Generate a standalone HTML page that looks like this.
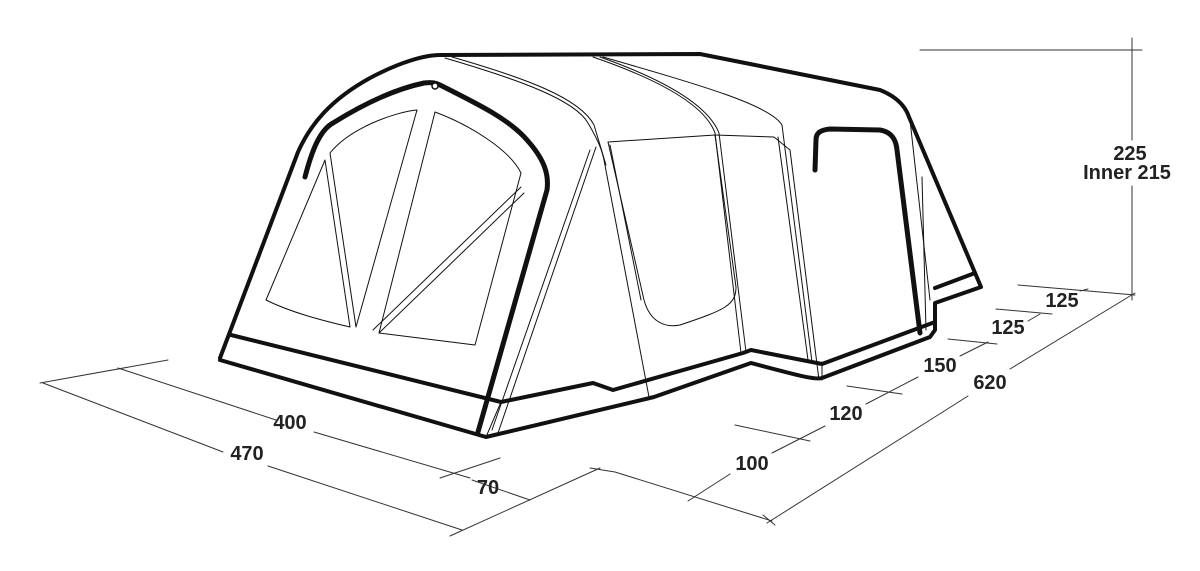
<!DOCTYPE html>
<html><head><meta charset="utf-8"><style>
html,body{margin:0;padding:0;background:#fff;}
svg{display:block;}
text{font-family:"Liberation Sans",sans-serif;font-size:20px;font-weight:bold;fill:#222;text-anchor:middle;}
</style></head><body>
<svg width="1200" height="571" viewBox="0 0 1200 571" xmlns="http://www.w3.org/2000/svg">
<g fill="none" stroke="#111" stroke-linecap="round" stroke-linejoin="round">
<g stroke-width="1" stroke="#333">
<line x1="40" y1="383" x2="168" y2="360"/>
<line x1="118" y1="368" x2="276" y2="420"/>
<line x1="314" y1="432" x2="470" y2="478"/>
<line x1="440" y1="478" x2="500" y2="458"/>
<line x1="43" y1="383" x2="223" y2="452"/>
<line x1="268" y1="466" x2="462" y2="530"/>
<line x1="450" y1="536" x2="600" y2="468"/>
<line x1="472" y1="480" x2="530" y2="500"/>
<line x1="590" y1="468" x2="615" y2="472"/>
<line x1="615" y1="472" x2="772" y2="521"/>
<line x1="688" y1="501" x2="730" y2="474"/>
<line x1="772" y1="453" x2="825" y2="426"/>
<line x1="735" y1="425" x2="810" y2="441"/>
<line x1="866" y1="404" x2="918" y2="377"/>
<line x1="847" y1="386" x2="902" y2="394"/>
<line x1="960" y1="356" x2="988" y2="342"/>
<line x1="948" y1="339" x2="997" y2="344"/>
<line x1="1028" y1="321" x2="1040" y2="314"/>
<line x1="996" y1="309" x2="1052" y2="314"/>
<line x1="1080" y1="291" x2="1088" y2="289"/>
<line x1="1018" y1="285" x2="1135" y2="295"/>
<line x1="767" y1="523" x2="968" y2="396"/>
<line x1="1010" y1="369" x2="1135" y2="293"/>
<line x1="763" y1="515" x2="775" y2="525"/>
<line x1="1132" y1="38" x2="1132" y2="140"/>
<line x1="1132" y1="186" x2="1132" y2="300"/>
<line x1="920" y1="50" x2="1142" y2="50"/>
</g>
<g stroke-width="1">
<path d="M445,58 C520,80 575,100 588,123 C598,140 602,150 604,160 L649,397"/>
<path d="M452,57 C525,78 580,98 594,125 L606,165"/>
<path d="M596,147 L498,433"/>
<path d="M590,150 L492,430"/>
<path d="M593,57 C660,80 705,105 715,133 L741,353"/>
<path d="M600,57 C665,80 708,105 719,133 L746,352"/>
<path d="M603,57 C700,85 770,105 782,125 L812,362"/>
<path d="M778,137 L808,360"/>
<path d="M608,142 L715,135 L736,287 C736,305 725,310 680,325 C665,328 650,322 644,300 Z"/>
<path d="M610,145 L641,300"/>
<path d="M715,135 L774,137 L790,150 L819,380"/>
<path d="M922,177 L926,330"/>
<path d="M910,120 L930,300"/>
<path d="M822,362 L822,380"/>
<path d="M501,402 L486,437"/>
<path d="M325,160 L266,300 C290,312 320,320 350,327 Z"/>
<path d="M330,153 C350,128 395,112 417,110 L356,327 Z"/>
<path d="M435,112 C470,125 510,150 521,173 L475,345 L379,333 Z"/>
<path d="M521,187 L373,330"/>
<path d="M524,193 L379,333"/>
</g>
<g stroke-width="4">
<path d="M220,358 L298,152 C310,125 330,100 370,78 C400,62 425,55 440,55 L700,54 L880,90 C895,96 905,105 909,117 L981,287 L935,303 L935,330 L930,337 L822,378 C815,380 800,376 751,363 L654,397 L486,437 L220,360"/>
<path d="M231,335 L501,402 L593,383 L613,390 L743,353 L751,350 L822,364 L935,322"/>
<path d="M935,288 L975,273"/>
<path d="M305,177 C312,150 320,130 333,123 C370,100 400,88 424,83 C432,82 436,83 440,85 C480,105 510,120 527,140 C545,160 549,175 547,190 L478,432" stroke-width="5"/>
<path d="M815,170 L816,140 C816,133 820,130 830,129 L880,130 C892,132 896,140 897,150 L920,333" stroke-width="5"/>
</g>
<circle cx="435" cy="86" r="3" stroke-width="1.5" fill="#fff"/>
</g>
<text x="290" y="429">400</text>
<text x="247" y="460">470</text>
<text x="488" y="494">70</text>
<text x="752" y="470">100</text>
<text x="846" y="420">120</text>
<text x="940" y="372">150</text>
<text x="990" y="389">620</text>
<text x="1008" y="334">125</text>
<text x="1062" y="307">125</text>
<text x="1130" y="160">225</text>
<text x="1127" y="179">Inner 215</text>
</svg>
</body></html>
